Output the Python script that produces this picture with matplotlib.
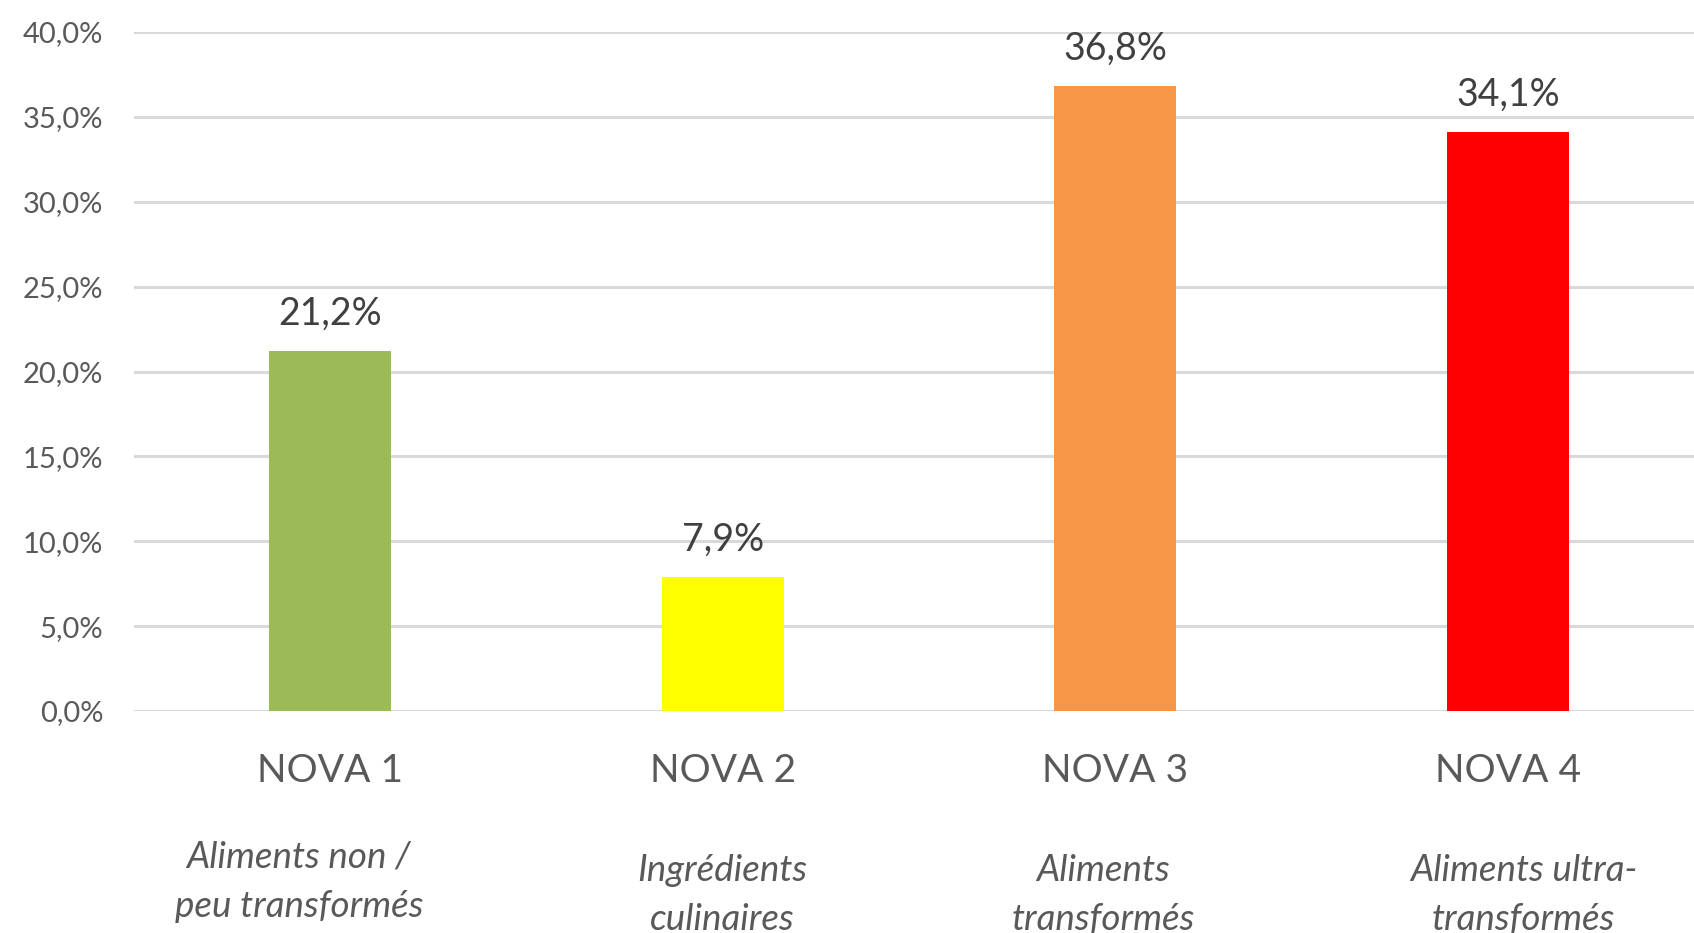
import matplotlib
matplotlib.use("Agg")
import matplotlib.pyplot as plt
import matplotlib.transforms as mtransforms

# data
categories = ["NOVA 1", "NOVA 2", "NOVA 3", "NOVA 4"]
values = [21.2, 7.9, 36.8, 34.1]
subtitles = ["Aliments non /\npeu transformés", "Ingrédients\nculinaires",
             "Aliments\ntransformés", "Aliments ultra-\ntransformés"]
yticks = [0, 5, 10, 15, 20, 25, 30, 35, 40]

colors = ["#9bbb59", "#ffff00", "#f79646", "#ff0000"]

plt.rcParams['font.family'] = ['Lato', 'DejaVu Sans']

W, H = 1694, 933
fig = plt.figure(figsize=(W / 100, H / 100), dpi=100)
# axes placed in pixel terms; right edge runs past the figure like the crop
left, right, bottom, top = 134, 1704, 933 - 711, 933 - 32
ax = fig.add_axes([left / W, bottom / H, (right - left) / W, (top - bottom) / H])

x = list(range(len(categories)))
ax.bar(x, values, width=0.31, color=colors, zorder=3)

ax.set_xlim(-0.5, 3.5)
ax.set_ylim(0, 40)
ax.set_yticks(yticks)
ax.set_yticklabels([f"{t:.1f}%".replace(".", ",") for t in yticks],
                   fontsize=21, color="#595959")
ax.tick_params(axis='y', length=0, pad=22)
ax.set_xticks(x)
ax.set_xticklabels(categories, fontsize=28, color="#595959")
ax.tick_params(axis='x', length=0, pad=30)
ax.yaxis.grid(True, color="#d9d9d9", linewidth=2.2, zorder=0)
ax.set_axisbelow(True)
for s in ax.spines.values():
    s.set_visible(False)

for xi, v in zip(x, values):
    ax.annotate(f"{v:.1f}%".replace(".", ","), (xi, v), xytext=(0, 27),
                textcoords="offset points", ha="center", va="center",
                fontsize=27, color="#404040")

trans = mtransforms.blended_transform_factory(ax.transData, fig.transFigure)
sub_x = [-0.08, 0.0, -0.03, 0.04]
sub_y = [933 - 882, 933 - 895, 933 - 895, 933 - 895]
for xi, dx, yy, s in zip(x, sub_x, sub_y, subtitles):
    ax.text(xi + dx, yy / H, s, transform=trans, ha="center", va="center",
            fontsize=26.5, style="italic", color="#595959", linespacing=1.6,
            clip_on=False)

fig.savefig("out.png", dpi=100)
